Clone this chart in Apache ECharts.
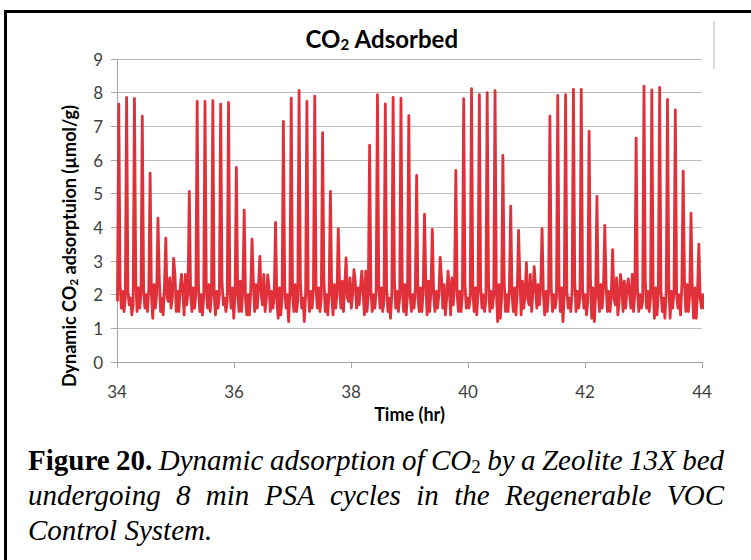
<!DOCTYPE html>
<html><head><meta charset="utf-8">
<script src="https://cdn.jsdelivr.net/npm/echarts@6/dist/echarts.min.js"></script>
<style>html,body{margin:0;padding:0;background:#fff}#c{width:751px;height:560px}</style>
</head><body><div id="c"></div>
<script>
// ---- data ----
// samples are taken every stepHour; each 8-min PSA cycle = 6 samples:
// peak, shoulder after the fall, trough, small bump, trough, value before the next rise
const startHour = 34.008;
const stepHour = 0.022333;
const firstValue = 1.8;
const peakValues = [
  7.66, 7.86, 7.83, 7.30, 5.61, 4.27, 3.68, 3.08, 2.60,
  5.07, 7.74, 7.74, 7.76, 7.66, 7.71, 5.78, 4.51, 3.65, 3.14, 2.59,
  4.15, 7.15, 7.84, 8.07, 7.74, 7.90, 6.81, 5.07, 3.96, 3.09, 2.74, 2.70,
  6.44, 7.94, 7.67, 7.86, 7.84, 7.32, 5.54, 4.39, 3.94, 3.11, 2.70,
  5.69, 7.82, 8.12, 7.94, 8.00, 8.06, 6.14, 4.63, 3.91, 2.95, 2.83,
  3.96, 7.30, 7.92, 7.94, 8.10, 8.10, 6.85, 4.92, 4.06, 3.34, 2.60, 2.47,
  6.65, 8.19, 8.08, 8.16, 7.80, 7.49, 5.67, 4.42, 3.50
];
const shoulderValues = [
  2.3, 2.1, 2.4, 2.2, 2.0, 2.5, 1.9, 2.6, 2.1,
  2.0, 2.3, 2.2, 2.0, 2.4, 2.2, 2.1, 1.9, 2.4, 2.0, 2.2,
  1.8, 2.2, 2.0, 2.4, 2.1, 2.2, 2.5, 2.0, 2.3, 1.9, 2.4, 2.1,
  2.1, 2.3, 2.2, 2.4, 2.2, 2.0, 1.9, 2.4, 2.0, 2.5, 2.2,
  2.0, 2.3, 2.1, 2.2, 2.4, 2.1, 2.4, 2.0, 2.5, 1.9, 2.2,
  2.0, 2.2, 2.3, 2.1, 2.4, 2.2, 2.5, 2.0, 2.3, 1.9, 2.3, 2.0,
  2.2, 2.4, 2.2, 2.1, 2.3, 2.0, 2.4, 2.1, 1.9
];
const firstTrough = [
  1.6, 1.7, 1.5, 1.6, 1.3, 1.5, 1.8, 1.5, 1.4,
  1.5, 1.5, 1.6, 1.4, 1.7, 1.6, 1.5, 1.4, 1.5, 1.7, 1.5,
  1.3, 1.6, 1.5, 1.6, 1.5, 1.6, 1.5, 1.4, 1.6, 1.8, 1.6, 1.4,
  1.5, 1.6, 1.5, 1.6, 1.5, 1.5, 1.5, 1.4, 1.5, 1.6, 1.4,
  1.5, 1.6, 1.5, 1.6, 1.5, 1.2, 1.5, 1.5, 1.4, 1.7, 1.6,
  1.4, 1.5, 1.5, 1.6, 1.5, 1.6, 1.3, 1.5, 1.5, 1.7, 1.5, 1.6,
  1.5, 1.6, 1.3, 1.5, 1.3, 1.6, 1.5, 1.3, 1.6
];
const midBump = [
  2.1, 1.9, 2.2, 2.0, 2.3, 1.9, 2.5, 2.1, 2.6,
  2.2, 2.0, 2.3, 2.1, 1.9, 2.2, 2.4, 2.0, 2.3, 2.6, 2.1,
  2.2, 2.0, 2.3, 1.9, 2.1, 2.2, 2.0, 2.3, 2.4, 2.5, 2.2, 2.7,
  2.0, 2.2, 1.9, 2.1, 2.3, 2.0, 2.2, 2.4, 2.1, 2.3, 2.5,
  2.1, 1.9, 2.2, 2.0, 2.1, 2.3, 2.0, 2.2, 2.4, 2.6, 2.3,
  2.1, 2.0, 2.2, 1.9, 2.1, 2.0, 2.2, 2.3, 2.1, 2.5, 2.4, 2.6,
  2.0, 2.1, 2.2, 1.9, 2.1, 2.0, 2.3, 2.2, 2.0
];
const secondTrough = [
  1.5, 1.4, 1.6, 1.5, 1.6, 1.4, 1.6, 1.5, 1.7,
  1.6, 1.4, 1.5, 1.6, 1.5, 1.3, 1.5, 1.4, 1.6, 1.5, 1.6,
  1.4, 1.2, 1.5, 1.2, 1.6, 1.5, 1.4, 1.6, 1.5, 1.6, 1.7, 1.5,
  1.6, 1.5, 1.3, 1.5, 1.4, 1.6, 1.5, 1.5, 1.6, 1.4, 1.7,
  1.5, 1.6, 1.4, 1.5, 1.6, 1.3, 1.5, 1.4, 1.6, 1.5, 1.7,
  1.5, 1.6, 1.2, 1.5, 1.6, 1.4, 1.2, 1.6, 1.5, 1.4, 1.6, 1.5,
  1.6, 1.5, 1.4, 1.3, 1.6, 1.4, 1.5, 1.3, 1.6
];
const preRise = [
  1.9, 1.7, 2.0, 2.2, 2.0, 2.3, 1.9, 2.2, 2.1,
  2.0, 1.9, 2.1, 2.0, 1.8, 2.0, 2.2, 2.1, 2.3, 1.9, 2.0,
  1.9, 2.1, 1.8, 2.0, 2.2, 1.9, 2.1, 2.0, 2.3, 2.0, 2.2, 2.0,
  2.1, 1.8, 2.0, 1.9, 2.0, 2.2, 2.1, 2.2, 2.0, 1.9, 2.3,
  2.0, 1.9, 2.1, 1.8, 2.0, 1.9, 2.2, 2.1, 2.0, 2.1, 2.3,
  2.1, 1.9, 2.0, 2.1, 1.9, 1.8, 2.0, 2.2, 2.0, 1.8, 2.2, 2.0,
  1.8, 1.9, 2.1, 2.0, 2.1, 2.3, 2.0, 2.1, 1.7
];
const xTickValues = [34, 36, 38, 40, 42, 44];
const yTickValues = [0, 1, 2, 3, 4, 5, 6, 7, 8, 9];

// ---- build series table ----
const seriesData = [[startHour, firstValue]];
peakValues.forEach(function (p, k) {
  const cyc = [p, shoulderValues[k], firstTrough[k], midBump[k], secondTrough[k], preRise[k]];
  cyc.forEach(function (v, j) {
    const i = 1 + 6 * k + j;
    seriesData.push([+(startHour + i * stepHour).toFixed(4), v]);
  });
});

// ---- caption layout (justified lines) ----
const capFamily = '"Liberation Serif", "Times New Roman", serif';
const capSize = 29;
const subSize = 19;
const mctx = document.createElement('canvas').getContext('2d');
function mw(t, style, weight, size) {
  mctx.font = style + ' ' + weight + ' ' + size + 'px ' + capFamily;
  return mctx.measureText(t).width;
}
const capLines = [
  {y: 460, justify: true, words: [
    {t: 'Figure', b: true}, {t: '20.', b: true}, {t: 'Dynamic'}, {t: 'adsorption'}, {t: 'of'},
    {t: 'CO', sub: '2'}, {t: 'by'}, {t: 'a'}, {t: 'Zeolite'}, {t: '13X'}, {t: 'bed'}]},
  {y: 495, justify: true, words: [
    {t: 'undergoing'}, {t: '8'}, {t: 'min'}, {t: 'PSA'}, {t: 'cycles'}, {t: 'in'}, {t: 'the'},
    {t: 'Regenerable'}, {t: 'VOC'}]},
  {y: 530, justify: false, words: [{t: 'Control'}, {t: 'System.'}]}
];
const capLeft = 28, capRight = 724;
const graphics = [];
capLines.forEach(function (line) {
  const widths = line.words.map(function (w) {
    let wd = w.b ? mw(w.t, 'normal', 'bold', capSize) : mw(w.t, 'italic', 'normal', capSize);
    if (w.sub) wd += mw(w.sub, 'normal', 'normal', subSize);
    return wd;
  });
  const total = widths.reduce(function (a, b) { return a + b; }, 0);
  const space = line.justify ? (capRight - capLeft - total) / (line.words.length - 1) : mw(' ', 'italic', 'normal', capSize);
  let x = capLeft;
  line.words.forEach(function (w, i) {
    graphics.push({
      type: 'text', x: x, y: line.y, silent: true,
      style: {
        text: w.sub ? w.t + '{s|' + w.sub + '}' : w.t,
        fill: '#000',
        fontFamily: capFamily, fontSize: capSize,
        fontStyle: w.b ? 'normal' : 'italic',
        fontWeight: w.b ? 'bold' : 'normal',
        align: 'left', verticalAlign: 'middle',
        rich: {s: {fontFamily: capFamily, fontSize: subSize, fontStyle: 'normal', padding: [13, 0, 0, 0], fill: '#000'}}
      }
    });
    x += widths[i] + space;
  });
});

// frame and title
graphics.push(
  {type: 'line', silent: true, shape: {x1: 5.5, y1: 10, x2: 5.5, y2: 560}, style: {stroke: '#000', lineWidth: 3}},
  {type: 'line', silent: true, shape: {x1: 4, y1: 11.5, x2: 751, y2: 11.5}, style: {stroke: '#000', lineWidth: 3}},
  {type: 'line', silent: true, shape: {x1: 714, y1: 21, x2: 714, y2: 69}, style: {stroke: '#d0d0d0', lineWidth: 1.5}},
  {type: 'text', x: 382, y: 38, silent: true, style: {
    text: 'CO{s|2} Adsorbed', fill: '#000', fontFamily: 'Lato', fontSize: 24, fontWeight: 'bold',
    align: 'center', verticalAlign: 'middle',
    rich: {s: {fontFamily: 'Lato', fontSize: 15, fontWeight: 'bold', padding: [12, 0, 0, 0], fill: '#000'}}
  }},
  {type: 'text', x: 69, y: 246, rotation: Math.PI / 2, silent: true, style: {
    text: 'Dynamic CO{s|2} adsorptuion (µmol/g)', fill: '#000', fontFamily: 'Lato', fontSize: 18, fontWeight: 'bold',
    align: 'center', verticalAlign: 'middle',
    rich: {s: {fontFamily: 'Lato', fontSize: 12, fontWeight: 'bold', padding: [9, 0, 0, 0], fill: '#000'}}
  }}
);

const chart = echarts.init(document.getElementById('c'), null, {renderer: 'svg'});
chart.setOption({
  animation: false,
  backgroundColor: '#fff',
  grid: {left: 117, right: 49, top: 59, bottom: 198, containLabel: false},
  xAxis: {
    type: 'value', min: xTickValues[0], max: xTickValues[xTickValues.length - 1], interval: 2,
    axisLine: {show: true, onZero: false, lineStyle: {color: '#a6a6a6', width: 1}},
    axisTick: {show: true, length: 6, lineStyle: {color: '#a6a6a6'}},
    axisLabel: {fontFamily: 'Lato', fontSize: 17, color: '#404040', margin: 21},
    splitLine: {show: false},
    name: 'Time (hr)', nameLocation: 'middle', nameGap: 41,
    nameTextStyle: {fontFamily: 'Lato', fontSize: 18, fontWeight: 'bold', color: '#000'}
  },
  yAxis: {
    type: 'value', min: yTickValues[0], max: yTickValues[yTickValues.length - 1], interval: 1,
    axisLine: {show: true, lineStyle: {color: '#a6a6a6', width: 1}},
    axisTick: {show: true, length: 6, lineStyle: {color: '#a6a6a6'}},
    axisLabel: {fontFamily: 'Lato', fontSize: 17, color: '#404040', margin: 14},
    splitLine: {show: true, lineStyle: {color: '#bdbdbd', width: 1}}
  },
  series: [{
    type: 'line', data: seriesData, showSymbol: false, symbol: 'none', clip: true,
    lineStyle: {color: '#e0303a', width: 2.8, join: 'round'}
  }],
  graphic: graphics
});
</script></body></html>
